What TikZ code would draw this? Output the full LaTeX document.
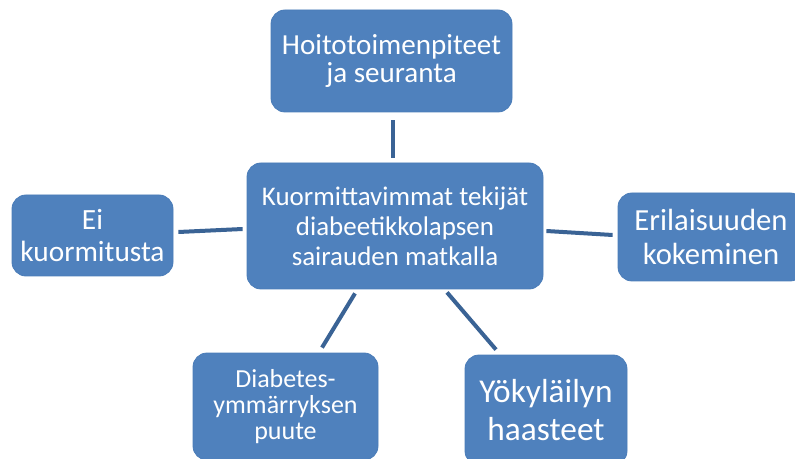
\documentclass[tikz,border=0pt]{standalone}
\usepackage{fontspec}
\setmainfont{Carlito}
\usetikzlibrary{calc}
\definecolor{boxfill}{HTML}{4F81BD}
\definecolor{boxline}{HTML}{4A7CB8}
\definecolor{linkcol}{HTML}{3A6395}
\tikzset{
  box/.style={draw=boxline, fill=boxfill, line width=0.6pt, rounded corners=10.5pt,
    text=white, align=center, inner sep=0pt},
  link/.style={draw=linkcol, line width=3pt}
}
\begin{document}
\begin{tikzpicture}[x=0.75pt,y=-0.75pt]
\useasboundingbox (0,0) rectangle (795,459);
\clip (0,0) rectangle (795,459);
\node[box, minimum width=241*0.75pt, minimum height=102*0.75pt, font=\fontsize{21.8}{21}\selectfont]
  (top) at (391.5,61) {Hoitotoimenpiteet\\ja seuranta};
\node[box, minimum width=296*0.75pt, minimum height=126*0.75pt, font=\fontsize{20.2}{22.5}\selectfont]
  (c) at (395,226) {Kuormittavimmat tekijät\\diabeetikkolapsen\\sairauden matkalla};
\node[box, minimum width=161*0.75pt, minimum height=81*0.75pt, font=\fontsize{22}{24}\selectfont]
  (l) at (92.5,235.5) {Ei\\kuormitusta};
\node[box, minimum width=186*0.75pt, minimum height=88*0.75pt, font=\fontsize{23}{26}\selectfont]
  (r) at (711,237) {Erilaisuuden\\kokeminen};
\node[box, minimum width=185*0.75pt, minimum height=107*0.75pt, font=\fontsize{19.5}{19.5}\selectfont]
  (bl) at (285.5,406.5) {Diabetes-\\ymmärryksen\\puute};
\node[box, minimum width=162*0.75pt, minimum height=110*0.75pt, font=\fontsize{25}{28}\selectfont]
  (br) at (546,410) {Yökyläilyn\\haasteet};
\draw[link] ($(top.south)+(1.5,8)$) -- ($(c.north)+(-2,-5)$);
\draw[link] ($(l.east)+(5,-3.5)$) -- ($(c.west)+(-4,3)$);
\draw[link] ($(c.east)+(3,5)$) -- ($(r.west)+(-5,-2)$);
\draw[link] ($(c.south)+(-40,4)$) -- ($(bl.north)+(36.5,-5)$);
\draw[link] ($(c.south)+(52,3)$) -- ($(br.north)+(-50,-5)$);
\end{tikzpicture}
\end{document}
